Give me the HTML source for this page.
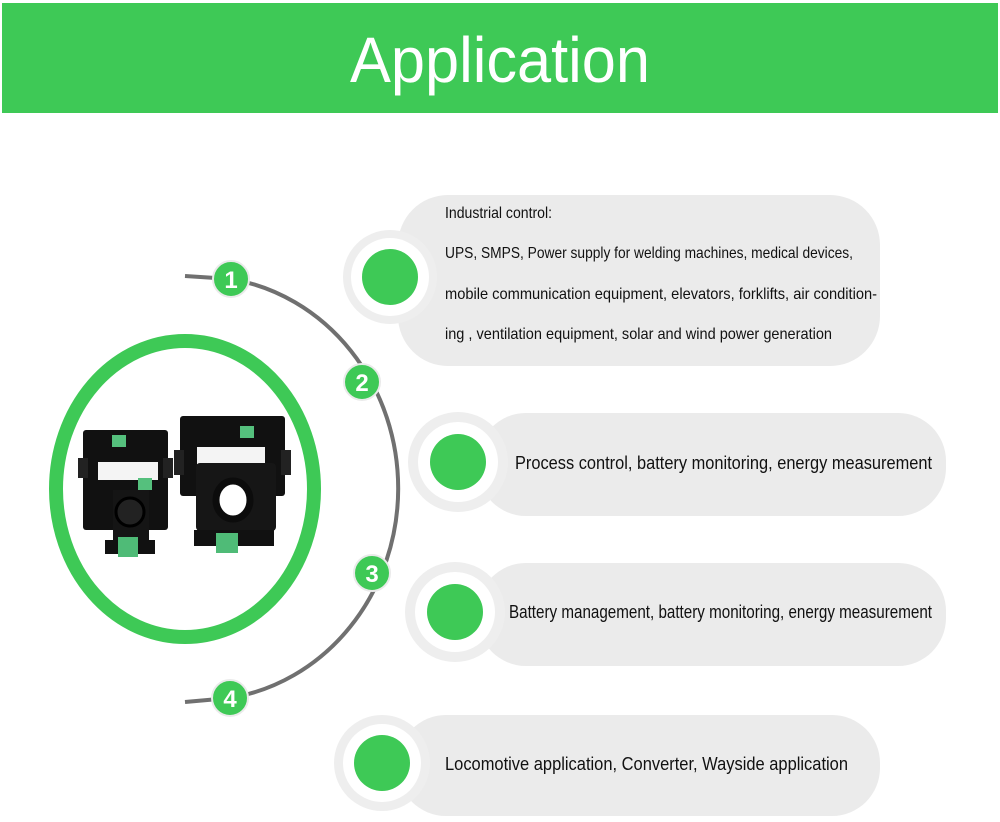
<!DOCTYPE html>
<html><head><meta charset="utf-8"><style>
html,body{margin:0;padding:0;background:#fff;width:1000px;height:822px;overflow:hidden}
svg{display:block}
text{font-family:"Liberation Sans Narrow","Liberation Sans",sans-serif}
</style></head><body>
<svg width="1000" height="822" viewBox="0 0 1000 822" xmlns="http://www.w3.org/2000/svg">
<rect x="0" y="0" width="1000" height="822" fill="#fff"/>
<rect x="2" y="3" width="996" height="110" fill="#3ec956"/>
<text x="500" y="82" text-anchor="middle" font-size="64" fill="#fff" style="font-family:'Liberation Sans',sans-serif" textLength="300" lengthAdjust="spacingAndGlyphs">Application</text>

<path d="M185,276 L231,279 A198 212 0 0 1 230 698 L185,702" fill="none" stroke="#707070" stroke-width="4"/>

<ellipse cx="185" cy="489" rx="129" ry="148" fill="#fff" stroke="#3ec956" stroke-width="14"/>

<g>
<rect x="83" y="430" width="85" height="100" rx="3" fill="#111"/>
<rect x="98" y="462" width="60" height="18" fill="#f4f4f4"/>
<rect x="78" y="458" width="10" height="20" fill="#222"/>
<rect x="163" y="458" width="10" height="20" fill="#222"/>
<rect x="113" y="490" width="36" height="60" fill="#151515"/>
<circle cx="130" cy="512" r="14" fill="#222" stroke="#000" stroke-width="3"/>
<rect x="105" y="540" width="50" height="14" fill="#111"/>
<rect x="118" y="537" width="20" height="20" fill="#4fbb77"/>
<rect x="112" y="435" width="14" height="12" fill="#55c07d"/>
<rect x="138" y="478" width="14" height="12" fill="#55c07d"/>

<rect x="180" y="416" width="105" height="80" rx="3" fill="#111"/>
<rect x="197" y="447" width="68" height="18" fill="#f4f4f4"/>
<rect x="174" y="450" width="10" height="25" fill="#222"/>
<rect x="281" y="450" width="10" height="25" fill="#222"/>
<rect x="196" y="463" width="80" height="68" rx="4" fill="#161616"/>
<ellipse cx="233" cy="500" rx="17" ry="19" fill="#fff" stroke="#0c0c0c" stroke-width="7"/>
<rect x="194" y="530" width="80" height="16" fill="#111"/>
<rect x="216" y="533" width="22" height="20" fill="#4fbb77"/>
<rect x="240" y="426" width="14" height="12" fill="#55c07d"/>
</g>

<g font-size="24" font-weight="bold" fill="#fff" text-anchor="middle" style="font-family:'Liberation Sans',sans-serif">
<circle cx="231" cy="279" r="18" fill="#3ec956" stroke="#eaeaea" stroke-width="2"/><text x="231" y="288">1</text>
<circle cx="362" cy="382" r="18" fill="#3ec956" stroke="#eaeaea" stroke-width="2"/><text x="362" y="391">2</text>
<circle cx="372" cy="573" r="18" fill="#3ec956" stroke="#eaeaea" stroke-width="2"/><text x="372" y="582">3</text>
<circle cx="230" cy="698" r="18" fill="#3ec956" stroke="#eaeaea" stroke-width="2"/><text x="230" y="707">4</text>
</g>

<rect x="398" y="195" width="482" height="171" rx="50" fill="#ebebeb"/>
<circle cx="390" cy="277" r="47" fill="#eeeeee"/><circle cx="390" cy="277" r="39" fill="#fff"/><circle cx="390" cy="277" r="28" fill="#3ec956"/>

<rect x="478" y="413" width="468" height="103" rx="48" fill="#ebebeb"/>
<circle cx="458" cy="462" r="50" fill="#eeeeee"/><circle cx="458" cy="462" r="40" fill="#fff"/><circle cx="458" cy="462" r="28" fill="#3ec956"/>

<rect x="478" y="563" width="468" height="103" rx="48" fill="#ebebeb"/>
<circle cx="455" cy="612" r="50" fill="#eeeeee"/><circle cx="455" cy="612" r="40" fill="#fff"/><circle cx="455" cy="612" r="28" fill="#3ec956"/>

<rect x="398" y="715" width="482" height="101" rx="48" fill="#ebebeb"/>
<circle cx="382" cy="763" r="48" fill="#eeeeee"/><circle cx="382" cy="763" r="39" fill="#fff"/><circle cx="382" cy="763" r="28" fill="#3ec956"/>

<g fill="#111">
<text x="445" y="218" font-size="16" textLength="107" lengthAdjust="spacingAndGlyphs">Industrial control:</text>
<text x="445" y="258" font-size="16" textLength="408" lengthAdjust="spacingAndGlyphs">UPS, SMPS, Power supply for welding machines, medical devices,</text>
<text x="445" y="299" font-size="16" textLength="432" lengthAdjust="spacingAndGlyphs">mobile communication equipment, elevators, forklifts, air condition-</text>
<text x="445" y="339" font-size="16" textLength="387" lengthAdjust="spacingAndGlyphs">ing , ventilation equipment, solar and wind power generation</text>
<text x="515" y="469" font-size="18" textLength="417" lengthAdjust="spacingAndGlyphs">Process control, battery monitoring, energy measurement</text>
<text x="509" y="618" font-size="18" textLength="423" lengthAdjust="spacingAndGlyphs">Battery management, battery monitoring, energy measurement</text>
<text x="445" y="770" font-size="18" textLength="403" lengthAdjust="spacingAndGlyphs">Locomotive application, Converter, Wayside application</text>
</g>
</svg>
</body></html>
